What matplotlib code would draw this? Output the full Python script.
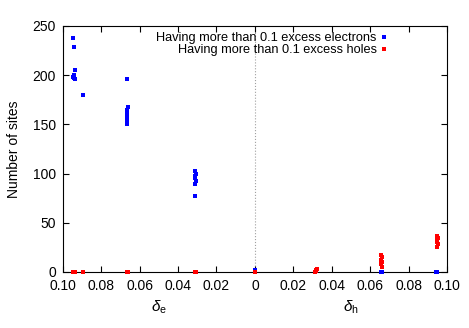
import matplotlib
matplotlib.use("Agg")
import matplotlib.pyplot as plt
from matplotlib.ticker import FuncFormatter, MultipleLocator

plt.rcParams['font.family'] = ['Liberation Sans', 'DejaVu Sans']
plt.rcParams['mathtext.fontset'] = 'custom'
plt.rcParams['mathtext.rm'] = 'Liberation Sans'
plt.rcParams['mathtext.it'] = 'Liberation Sans:italic'

# signed delta: negative = delta_e side, positive = delta_h side
electrons_x = [-0.0945, -0.094, -0.0935, -0.094, -0.0945, -0.094, -0.0938, -0.0897,
               -0.0667, -0.0663, -0.0665, -0.0667, -0.0668, -0.0665, -0.0664, -0.0666,
               -0.0313, -0.0308, -0.031, -0.0312, -0.0309, -0.0311, -0.031,
               0.0, 0.0655, 0.066, 0.0945, 0.095]
electrons_y = [238, 229, 205, 200, 198, 197, 196, 180,
               196, 168, 165, 161, 158, 155, 152, 150,
               103, 100, 97, 95, 92, 89, 77,
               2, 0, 0, 0, 0]

holes_x = [-0.0945, -0.0935, -0.0897, -0.0667, -0.0663, -0.0312, -0.0308, 0.0,
           0.0315, 0.032, 0.0318, 0.0322,
           0.0655, 0.066, 0.0657, 0.0662, 0.0658, 0.066,
           0.0948, 0.0952, 0.095, 0.0947, 0.0951, 0.0949]
holes_y = [0, 0, 0, 0, 0, 0, 0, 0,
           0, 1, 2, 3,
           17, 15, 12, 10, 8, 5,
           37, 34, 32, 30, 28, 25]

electron_label = "Having more than 0.1 excess electrons"
hole_label = "Having more than 0.1 excess holes"

fig, ax = plt.subplots(figsize=(4.69, 3.28), dpi=100)
plt.subplots_adjust(left=0.134, right=0.953, top=0.921, bottom=0.171)

ax.plot(electrons_x, electrons_y, 's', color='#0000ff', markersize=3.4, markeredgewidth=0,
        label=electron_label, clip_on=False, zorder=3)
ax.plot(holes_x, holes_y, 's', color='#ff0000', markersize=3.4, markeredgewidth=0,
        label=hole_label, clip_on=False, zorder=3)

ax.axvline(0, color='#a0a0a0', linestyle=':', linewidth=0.8, zorder=0)

ax.set_xlim(-0.10, 0.10)
ax.set_ylim(0, 250)
ax.xaxis.set_major_locator(MultipleLocator(0.02))
ax.yaxis.set_major_locator(MultipleLocator(50))


def abs_label(x, pos):
    if abs(x) < 1e-9:
        return "0"
    return "%.2f" % abs(x)


ax.xaxis.set_major_formatter(FuncFormatter(abs_label))
ax.tick_params(direction='in', top=True, right=True, length=4, labelsize=10, pad=5)

ax.set_ylabel("Number of sites", fontsize=10, labelpad=8)
ax.text(-0.05, -0.11, r'$\delta_{\rm e}$', transform=ax.get_xaxis_transform(), ha='center', va='top', fontsize=11)
ax.text(0.05, -0.11, r'$\delta_{\rm h}$', transform=ax.get_xaxis_transform(), ha='center', va='top', fontsize=11)

leg = ax.legend(loc='upper right', bbox_to_anchor=(0.85, 0.975), frameon=False, markerfirst=False,
                fontsize=9.2, handlelength=0.8, handletextpad=0.2, borderaxespad=0.0,
                borderpad=0.0, labelspacing=0.0)
for t in leg.get_texts():
    t.set_ha('right')
leg._legend_box.align = 'right'

plt.savefig("out.png", dpi=100)
